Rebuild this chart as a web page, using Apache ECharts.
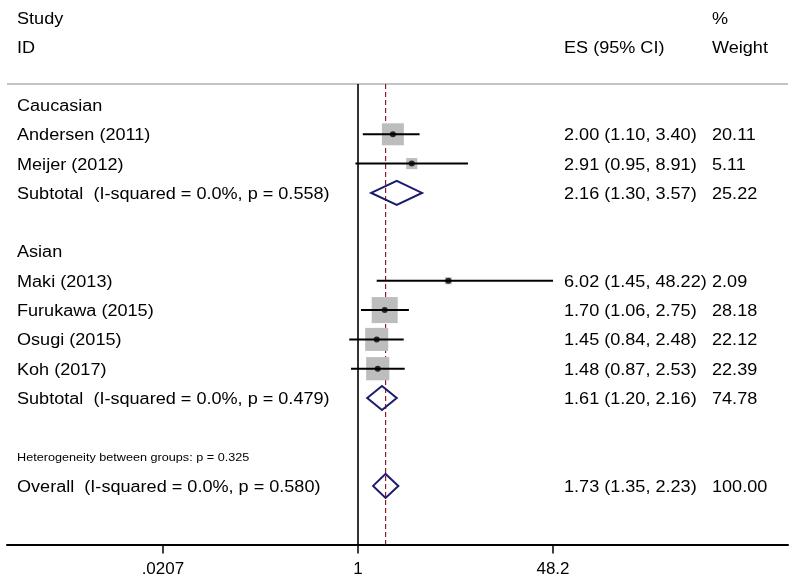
<!DOCTYPE html>
<html><head><meta charset="utf-8">
<script src="https://cdn.jsdelivr.net/npm/echarts@6/dist/echarts.min.js"></script>
<style>html,body{margin:0;padding:0;background:#fff}#c{width:800px;height:581px}</style>
</head><body><div id="c"></div>
<script>
// ---------- data ----------
const headerTop = ['Study', '%'];
const headerBottom = ['ID', 'ES (95% CI)', 'Weight'];
const groupNames = ['Caucasian', 'Asian'];
const groupRows = [0, 5];
const studies = ['Andersen (2011)', 'Meijer (2012)', 'Maki (2013)', 'Furukawa (2015)', 'Osugi (2015)', 'Koh (2017)'];
const studyRows = [1, 2, 6, 7, 8, 9];
const studyES = [2.00, 2.91, 6.02, 1.70, 1.45, 1.48];
const studyLo = [1.10, 0.95, 1.45, 1.06, 0.84, 0.87];
const studyHi = [3.40, 8.91, 48.22, 2.75, 2.48, 2.53];
const studyWeight = [20.11, 5.11, 2.09, 28.18, 22.12, 22.39];
const pooledLabels = ['Subtotal  (I-squared = 0.0%, p = 0.558)', 'Subtotal  (I-squared = 0.0%, p = 0.479)', 'Overall  (I-squared = 0.0%, p = 0.580)'];
const pooledRows = [3, 10, 13];
const pooledES = [2.16, 1.61, 1.73];
const pooledLo = [1.30, 1.20, 1.35];
const pooledHi = [3.57, 2.16, 2.23];
const pooledWeight = [25.22, 74.78, 100.00];
const noteText = ['Heterogeneity between groups: p = 0.325'];
const noteRows = [12];
const xTicks = [0.0207, 1, 48.2];
const xTickLabels = ['.0207', '1', '48.2'];
const nullValue = 1;
const overallES = pooledES[2];

// ---------- layout ----------
const X_MIN = 0.000934, X_MAX = 5145;
const ROW_HEADER_TOP = -2.95, ROW_HEADER_BOTTOM = -1.98, ROW_RULE = -0.72, ROW_END = 15;
const COL_LEFT = 17, COL_ES = 564, COL_W = 712;
const FONT = '"Liberation Sans", Arial, sans-serif';
const SX = 1.13;

const fmt = v => v.toFixed(2);
const ciText = (e, l, h) => fmt(e) + ' (' + fmt(l) + ', ' + fmt(h) + ')';

// text table rows: [row, text, column px, font size]
const textItems = [];
textItems.push([ROW_HEADER_TOP, headerTop[0], COL_LEFT, 16]);
textItems.push([ROW_HEADER_TOP, headerTop[1], COL_W, 16]);
textItems.push([ROW_HEADER_BOTTOM, headerBottom[0], COL_LEFT, 16]);
textItems.push([ROW_HEADER_BOTTOM, headerBottom[1], COL_ES, 16]);
textItems.push([ROW_HEADER_BOTTOM, headerBottom[2], COL_W, 16]);
groupNames.forEach((g, i) => textItems.push([groupRows[i], g, COL_LEFT, 16]));
studies.forEach((s, i) => {
  textItems.push([studyRows[i], s, COL_LEFT, 16]);
  textItems.push([studyRows[i], ciText(studyES[i], studyLo[i], studyHi[i]), COL_ES, 16]);
  textItems.push([studyRows[i], fmt(studyWeight[i]), COL_W, 16]);
});
pooledLabels.forEach((s, i) => {
  textItems.push([pooledRows[i], s, COL_LEFT, 16]);
  textItems.push([pooledRows[i], ciText(pooledES[i], pooledLo[i], pooledHi[i]), COL_ES, 16]);
  textItems.push([pooledRows[i], fmt(pooledWeight[i]), COL_W, 16]);
});
noteText.forEach((s, i) => textItems.push([noteRows[i], s, COL_LEFT, 11.2]));

const chart = echarts.init(document.getElementById('c'), null, {renderer: 'canvas'});

const option = {
  animation: false,
  backgroundColor: '#fff',
  grid: {left: 7, right: 12, top: 17.1, bottom: 36.5},
  xAxis: {
    type: 'log', logBase: 10, min: X_MIN, max: X_MAX, position: 'bottom',
    axisLine: {show: true, onZero: false, lineStyle: {color: '#000', width: 2}},
    axisTick: {show: true, customValues: xTicks, length: 9, lineStyle: {color: '#000', width: 1.5}},
    axisLabel: {show: true, customValues: xTicks, margin: 16, fontSize: 17, color: '#000', fontFamily: FONT,
      formatter: v => { const i = xTicks.findIndex(t => Math.abs(t - v) / t < 1e-6); return i >= 0 ? xTickLabels[i] : ''; }},
    splitLine: {show: false}
  },
  yAxis: {type: 'value', inverse: true, min: ROW_HEADER_TOP - 0.05, max: ROW_END, show: false},
  series: [
    // gray rule under header
    {type: 'line', silent: true, symbol: 'none', z: 1,
      data: [[X_MIN, ROW_RULE], [X_MAX, ROW_RULE]],
      lineStyle: {color: '#c4c4c4', width: 2}},
    // null line
    {type: 'line', silent: true, symbol: 'none', z: 1,
      data: [[nullValue, ROW_RULE], [nullValue, ROW_END]],
      lineStyle: {color: '#000', width: 1.6}},
    // overall dashed line
    {type: 'line', silent: true, symbol: 'none', z: 1,
      data: [[overallES, ROW_RULE], [overallES, ROW_END]],
      lineStyle: {color: '#8e1b2b', width: 1.2, type: [5, 3]}},
    // weight boxes
    {type: 'scatter', silent: true, z: 2, symbol: 'rect',
      data: studyES.map((e, i) => ({value: [e, studyRows[i]], symbolSize: 4.9 * Math.sqrt(studyWeight[i])})),
      itemStyle: {color: '#bdbdbd', opacity: 1}},
    // CI lines
    {type: 'custom', silent: true, z: 3,
      data: studyES.map((e, i) => [studyLo[i], studyHi[i], studyRows[i]]),
      renderItem: (params, api) => {
        const a = api.coord([api.value(0), api.value(2)]);
        const b = api.coord([api.value(1), api.value(2)]);
        return {type: 'line', shape: {x1: a[0], y1: a[1], x2: b[0], y2: b[1]}, style: {stroke: '#000', lineWidth: 2}};
      }},
    // point estimates
    {type: 'scatter', silent: true, z: 4, symbol: 'circle', symbolSize: 6,
      data: studyES.map((e, i) => [e, studyRows[i]]),
      itemStyle: {color: '#000'}},
    // diamonds
    {type: 'custom', silent: true, z: 4,
      data: pooledES.map((e, i) => [e, pooledLo[i], pooledHi[i], pooledRows[i]]),
      renderItem: (params, api) => {
        const r = api.value(3);
        const c = api.coord([api.value(0), r]);
        const l = api.coord([api.value(1), r]);
        const h = api.coord([api.value(2), r]);
        return {type: 'polygon', shape: {points: [[l[0], c[1]], [c[0], c[1] - 12], [h[0], c[1]], [c[0], c[1] + 12]]},
          style: {fill: 'none', stroke: '#1b1b6f', lineWidth: 2}};
      }},
    // text table
    {type: 'custom', silent: true, z: 10,
      data: textItems.map(t => [nullValue, t[0]]),
      renderItem: (params, api) => {
        const t = textItems[params.dataIndex];
        const p = api.coord([api.value(0), api.value(1)]);
        return {type: 'text', x: t[2], y: p[1] + 1.5, scaleX: SX, scaleY: 1,
          style: {text: t[1], fill: '#000', fontSize: t[3], fontFamily: FONT, align: 'left', verticalAlign: 'middle'}};
      }}
  ]
};
chart.setOption(option);
</script>
</body></html>
